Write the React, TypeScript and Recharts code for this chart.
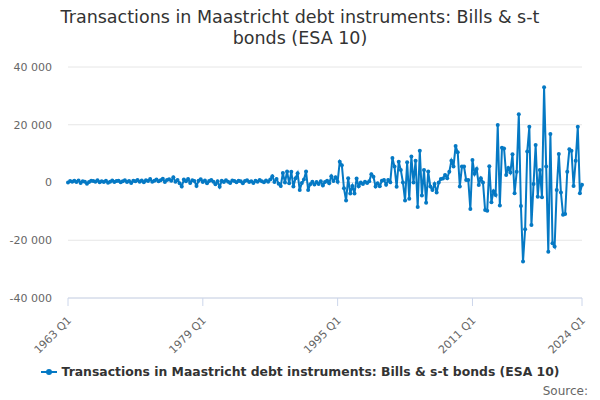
import React from "react";
import { LineChart, Line, CartesianGrid, XAxis, YAxis, Legend } from "recharts";

const title = "Transactions in Maastricht debt instruments: Bills & s-t bonds (ESA 10)";
const seriesName = "Transactions in Maastricht debt instruments: Bills & s-t bonds (ESA 10)";

const firstYear = 1963;
const tickIndexes = [0, 64, 128, 192, 244];
const yTicks = [-40000, -20000, 0, 20000, 40000];

// quarterly values, 1963 Q1 .. 2024 Q1
const values = [
  0, 500, 300, 600,
  200, 700, -200, 400,
  300, -400, 200, 600,
  500, 300, 800, 100,
  400, 200, 600, -100,
  300, 700, 200, 500,
  600, 100, 400, 800,
  200, 500, -200, 600,
  400, 900, 300, 700,
  100, 800, 500, 1200,
  300, 600, 1000, 400,
  800, 1300, 200, 900,
  1100, 600, 1800, 300,
  900, -300, -1400, 1000,
  400, 1200, -200, 800,
  500, -1200, 600, 1100,
  // 1979
  200, 700, -300, 500,
  900, 300, -600, 400,
  -1500, 600, 200, 800,
  300, -200, 700, 500,
  100, 600, 400, -300,
  500, 800, 200, 400,
  -200, 600, 300, 900,
  400, 100, 700, 300,
  // 1987
  1000, 2200, 200, 1200,
  -400, -1200, 3300, 0,
  3800, -300, 3700, -1400,
  1500, 3200, -2600, -200,
  1000, 3800, -2600, -600,
  300, -700, 200, -500,
  400, -1000, 200, 600,
  -300, 2200, 500, 1800,
  // 1995
  300, 7200, 6000, -2000,
  -6200, 1500, -3800, -1200,
  -3800, 1400, -1300, 0,
  -500, 300, -200, 400,
  2900, 2000, -1400, -300,
  -1300, 600, 900, -800,
  900, 100, 8500, 5500,
  -1500, 7200, 4300, 0,
  // 2003
  -6200, 7000, -5600, 9000,
  0, 7500, -8500, 11000,
  -4500, 4300, -7000, 3800,
  -1400, -2600, -500, -3500,
  0, 1200, 1400, 2600,
  1500, 3700, 7500, 5500,
  12600, 10500, -1400, 5500,
  5500, 900, 900, -9200,
  // 2011
  7800, 3000, 4700, -900,
  1500, 0, -9500, -9800,
  5600, -6800, -3000, -4300,
  19900, -8000, 12000, 11800,
  2600, 5000, 3500, 9800,
  -3700, 3700, 23600, -8100,
  -27400, -16200, 10700, 19300,
  -14700, -500, 13000, -4900,
  // 2019
  4300, -5100, 33000, 5500,
  -24000, 16800, -21000, -22200,
  -2600, 9900, -3500, -11200,
  -10900, 3700, 11500, 11000,
  -1200, 7500, 19300, -3700,
  -800,
];

const blue = "#0579c4";
const font = "'DejaVu Sans', sans-serif";

function quarterLabel(i: number) {
  return `${firstYear + Math.floor(i / 4)} Q${(i % 4) + 1}`;
}

const data = values.map((v, i) => ({ idx: i, quarter: quarterLabel(i), value: v }));

function fmtY(v: number) {
  const s = Math.abs(v).toString().replace(/\B(?=(\d{3})+(?!\d))/g, " ");
  return v < 0 ? `-${s}` : s;
}

function XTick(props: any) {
  const { x, y, payload } = props;
  return (
    <g transform={`translate(${x},${y})`}>
      <text
        x={4}
        y={13}
        transform="rotate(-45 4 13)"
        textAnchor="end"
        fill="#666666"
        fontSize={11}
      >
        {quarterLabel(payload.value)}
      </text>
    </g>
  );
}

function LegendBox() {
  return (
    <div style={{ display: "flex", justifyContent: "center", alignItems: "center" }}>
      <svg width={16} height={10} style={{ marginRight: 5 }}>
        <line x1={0} y1={5} x2={16} y2={5} stroke={blue} strokeWidth={2} />
        <circle cx={8} cy={5} r={3} fill={blue} />
      </svg>
      <span style={{ fontWeight: "bold", fontSize: 12.4, color: "#333333" }}>{seriesName}</span>
    </div>
  );
}

export default function App() {
  return (
    <div
      style={{
        position: "absolute",
        left: 0,
        top: 0,
        width: 600,
        height: 400,
        fontFamily: font,
        background: "#fff",
      }}
    >
      <div
        style={{
          position: "absolute",
          top: 7,
          left: 50,
          width: 500,
          textAlign: "center",
          fontSize: 17.5,
          lineHeight: "21px",
          color: "#333333",
        }}
      >
        {title}
      </div>
      <LineChart
        width={600}
        height={400}
        data={data}
        margin={{ top: 67, right: 18, bottom: 42, left: 0 }}
        style={{ fontFamily: font }}
      >
        <CartesianGrid vertical={false} stroke="#e6e6e6" />
        <XAxis
          dataKey="idx"
          type="number"
          domain={[0, values.length - 1]}
          ticks={tickIndexes}
          interval={0}
          height={60}
          tick={<XTick />}
          axisLine={{ stroke: "#ccd6eb" }}
          tickLine={{ stroke: "#ccd6eb" }}
          tickSize={8}
        />
        <YAxis
          domain={[-40000, 40000]}
          ticks={yTicks}
          tickFormatter={fmtY}
          width={68}
          axisLine={false}
          tickLine={false}
          tickSize={0}
          tickMargin={16}
          tick={{ fill: "#666666", fontSize: 11 }}
        />
        <Legend
          verticalAlign="middle"
          align="center"
          layout="horizontal"
          content={<LegendBox />}
          wrapperStyle={{ top: 364, left: 0, width: 600 }}
        />
        <Line
          type="linear"
          dataKey="value"
          name={seriesName}
          stroke={blue}
          strokeWidth={2}
          dot={{ r: 2, fill: blue, stroke: blue, strokeWidth: 0 }}
          isAnimationActive={false}
        />
      </LineChart>
      <div
        style={{
          position: "absolute",
          right: 12,
          top: 384,
          fontSize: 12,
          color: "#666666",
        }}
      >
        Source:
      </div>
    </div>
  );
}
